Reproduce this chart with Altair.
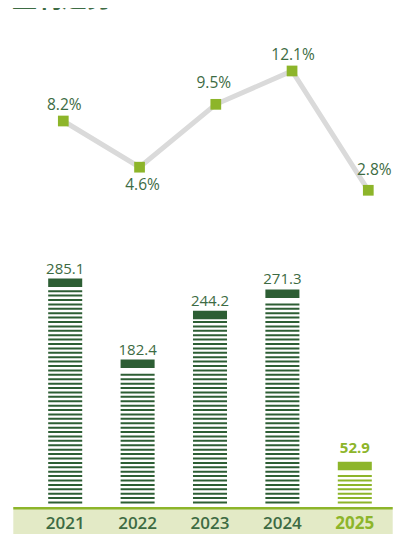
import altair as alt
import pandas as pd

# ---- data ----
years = ["2021", "2022", "2023", "2024", "2025"]
revenue = [285.1, 182.4, 244.2, 271.3, 52.9]
margin = [8.2, 4.6, 9.5, 12.1, 2.8]
title_text = ["盈利趋势"]

DARK = "#2d5e34"
TEXT = "#3d6b43"
LIME = "#8db52a"
BAND = "#e3eac6"
GRAY = "#dadada"
FONT = "Open Sans"

df = pd.DataFrame({"year": years, "revenue": revenue, "margin": margin})

# ---- bar group scales ----
xb = alt.X("year:N", scale=alt.Scale(type="band", domain=years, range=[21, 383],
                                     paddingInner=0.53, paddingOuter=0.265), axis=None)
yb_scale = alt.Scale(domain=[0, 600], range=[495.5, 22.1], zero=False, nice=False)
bar_color = alt.condition("datum.year == '2025'", alt.value(LIME), alt.value(DARK))

BLOCK = 10.8   # top solid block height in data units
PERIOD = 5.58  # stripe period in data units
THICK = 2.53   # stripe thickness in data units

block = alt.Chart().mark_rect().transform_calculate(
    top=f"datum.revenue - {BLOCK}"
).encode(
    x=xb,
    y=alt.Y("revenue:Q", scale=yb_scale, axis=None),
    y2="top:Q",
    color=bar_color,
)

stripes = alt.Chart().mark_rect().transform_calculate(
    k=f"sequence(0, floor((datum.revenue - {BLOCK} - {THICK} - 2) / {PERIOD}) + 1)"
).transform_flatten(["k"]).transform_calculate(
    s0=f"datum.k * {PERIOD}", s1=f"datum.k * {PERIOD} + {THICK}"
).encode(
    x=xb,
    y=alt.Y("s1:Q", scale=yb_scale, axis=None),
    y2="s0:Q",
    color=bar_color,
)

val_labels = alt.Chart().mark_text(
    baseline="alphabetic", dy=-5, fontSize=15, font=FONT, color=TEXT
).transform_filter("datum.year != '2025'").encode(
    x=xb, y=alt.Y("revenue:Q", scale=yb_scale, axis=None),
    text=alt.Text("revenue:Q", format=".1f"),
)
val_label_last = alt.Chart().mark_text(
    baseline="alphabetic", dy=-9, fontSize=15, font=FONT, fontWeight="bold", color=LIME
).transform_filter("datum.year == '2025'").encode(
    x=xb, y=alt.Y("revenue:Q", scale=yb_scale, axis=None),
    text=alt.Text("revenue:Q", format=".1f"),
)

year_labels = alt.Chart().mark_text(
    baseline="middle", fontSize=17, font=FONT, fontWeight=600, color=TEXT
).transform_filter("datum.year != '2025'").encode(
    x=xb, y=alt.value(516), text="year:N"
)
year_label_last = alt.Chart().mark_text(
    baseline="middle", fontSize=17, font=FONT, fontWeight="bold", color=LIME
).transform_filter("datum.year == '2025'").encode(
    x=xb, y=alt.value(516), text="year:N"
)

bars_group = alt.layer(block, stripes, val_labels, val_label_last, year_labels, year_label_last)

# ---- line group ----
xl = alt.X("year:N", scale=alt.Scale(type="point", domain=years, range=[55.3, 360.3], padding=0), axis=None)
yl = alt.Y("margin:Q", scale=alt.Scale(domain=[0, 14], range=[218.2, 38.6], zero=False, nice=False), axis=None)

line = alt.Chart().mark_line(color=GRAY, strokeWidth=5).encode(x=xl, y=yl)
points = alt.Chart().mark_point(shape="square", filled=True, size=115, color=LIME, opacity=1).encode(x=xl, y=yl)


def pct_label(cond, dx, dy):
    return alt.Chart().mark_text(
        baseline="middle", fontSize=15.5, font=FONT, color=TEXT, dx=dx, dy=dy
    ).transform_filter(cond).transform_calculate(
        lab="format(datum.margin, '.1f') + '%'"
    ).encode(x=xl, y=yl, text="lab:N")


line_group = alt.layer(
    line, points,
    pct_label("datum.year == '2021' || datum.year == '2024'", 1, -16),
    pct_label("datum.year == '2023'", -2, -21),
    pct_label("datum.year == '2022'", 3, 18),
    pct_label("datum.year == '2025'", 6, -20),
)

# ---- decorations ----
band = alt.Chart(pd.DataFrame({"t": [0]})).mark_rect(color=BAND).encode(
    x=alt.value(5.3), x2=alt.value(384.7), y=alt.value(499), y2=alt.value(530)
)
band_line = alt.Chart(pd.DataFrame({"t": [0]})).mark_rect(color=LIME).encode(
    x=alt.value(5.3), x2=alt.value(384.7), y=alt.value(499), y2=alt.value(501.5)
)
title = alt.Chart(pd.DataFrame({"t": title_text})).mark_text(
    align="left", baseline="alphabetic", font="Noto Sans CJK SC", fontSize=25,
    fontWeight="bold", color=TEXT
).encode(x=alt.value(4), y=alt.value(-1), text="t:N")

chart = alt.layer(
    band, band_line, bars_group, line_group, title, data=df
).resolve_scale(
    x="independent", y="independent"
).properties(
    width=385, height=526, padding=0,
    autosize=alt.AutoSizeParams(type="none"),
).configure_view(stroke=None)

chart.save("out.html", embed_options={"renderer": "svg", "actions": False})
